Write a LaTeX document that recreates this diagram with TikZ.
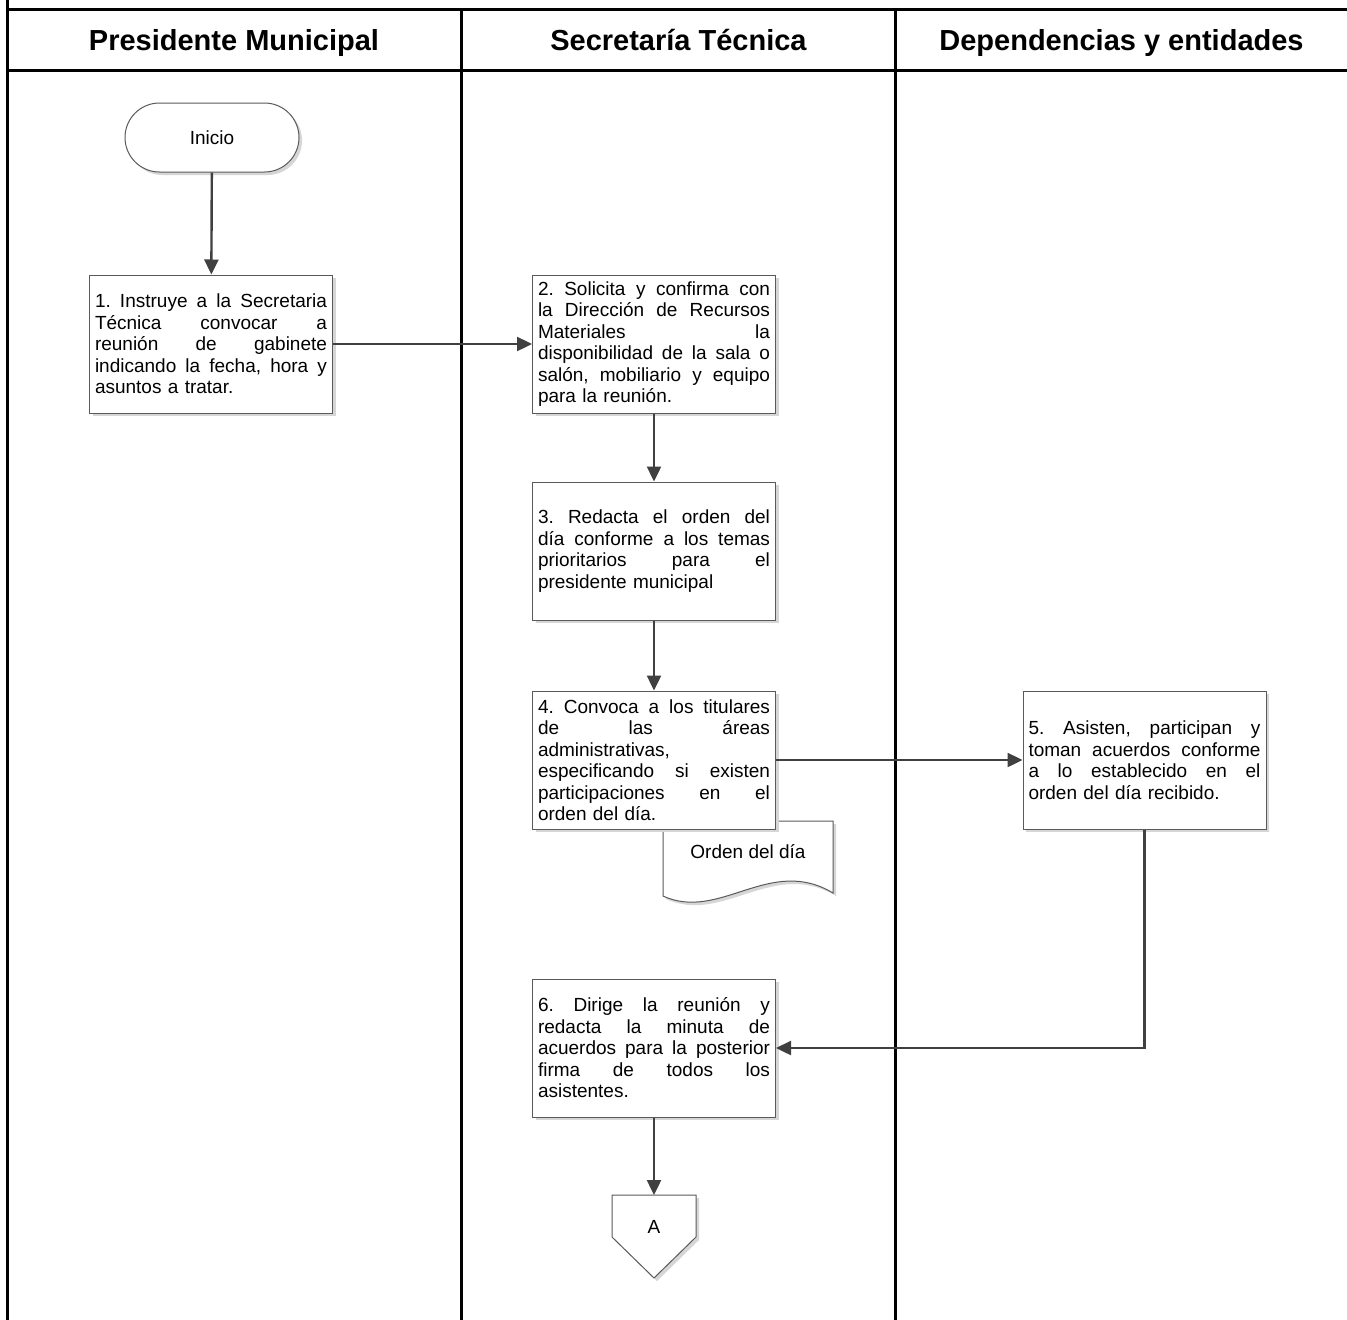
\documentclass[tikz,border=0pt]{standalone}
\usepackage{fontspec}
\setmainfont{Liberation Sans}
\usetikzlibrary{shapes.misc,shadows,arrows.meta,calc}
\definecolor{arrowc}{HTML}{404040}
\definecolor{boxc}{HTML}{5A5A5A}
\definecolor{shadowc}{HTML}{D6D6D6}
\newcommand{\jl}[1]{\leavevmode\hbox to 232pt{\spaceskip=0.278em plus 20em\relax #1}\\}
\tikzset{
  frame/.style={line width=3pt, draw=black},
  hdr/.style={font=\fontsize{29pt}{34pt}\selectfont\bfseries, anchor=base, inner sep=0pt},
  shadowed/.style={drop shadow={shadow xshift=3pt, shadow yshift=-3pt, fill=shadowc, opacity=1}},
  proc/.style={draw=boxc, line width=1pt, fill=white, shadowed, minimum width=243pt,
    minimum height=138pt, text width=232pt, inner sep=0pt, align=left,
    font=\fontsize{19pt}{21.5pt}\selectfont\frenchspacing},
  term/.style={rounded rectangle, draw=boxc, line width=1pt, fill=white, shadowed,
    minimum width=174pt, minimum height=69pt, inner sep=0pt,
    font=\fontsize{19pt}{22pt}\selectfont},
  plain/.style={inner sep=0pt, font=\fontsize{19pt}{22pt}\selectfont},
  docshape/.style={draw=boxc, line width=1pt, fill=white, shadowed},
  arr/.style={draw=arrowc, line width=2.4pt, -{Triangle[length=15pt,width=14pt]}}
}
\begin{document}
\begin{tikzpicture}[x=1pt,y=-1pt]
\fill[white] (0,0) rectangle (1347,1320);
\useasboundingbox (0,0) rectangle (1347,1320);
% frame
\draw[frame] (7,0) -- (7,1320);
\draw[frame] (5.5,9) -- (1347,9);
\draw[frame] (5.5,70) -- (1347,70);
\draw[frame] (461,9) -- (461,1320);
\draw[frame] (895.5,9) -- (895.5,1320);
% headers
\node[hdr] (h1) at (234,50) {Presidente Municipal};
\node[hdr] (h2) at (678.5,50) {Secretaría Técnica};
\node[hdr] (h3) at (1121.5,50) {Dependencias y entidades};
% start
\node[term] (inicio) at (212,137.5) {Inicio};
% boxes
\node[proc] (b1) at (211,344) {\jl{1. Instruye a la Secretaria}\jl{Técnica convocar a}\jl{reunión de gabinete}\jl{indicando la fecha, hora y}asuntos a tratar.};
\node[proc] (b2) at (654,344) {\jl{2. Solicita y confirma con}\jl{la Dirección de Recursos}\jl{Materiales la}\jl{disponibilidad de la sala o}\jl{salón, mobiliario y equipo}para la reunión.};
\node[proc] (b3) at (654,551) {\jl{3. Redacta el orden del}\jl{día conforme a los temas}\jl{prioritarios para el}presidente municipal};
% document
\draw[docshape] (663,821) -- (833,821) -- (833,893)
  .. controls (770,855) and (720,922) .. (663,896) -- cycle;
\node[plain] (doc) at (748,852) {Orden del día};
\node[proc] (b4) at (654,760) {\jl{4. Convoca a los titulares}\jl{de las áreas}administrativas,\\\jl{especificando si existen}\jl{participaciones en el}orden del día.};
\node[proc] (b5) at (1144.5,760) {\jl{5. Asisten, participan y}\jl{toman acuerdos conforme}\jl{a lo establecido en el}orden del día recibido.};
\node[proc] (b6) at (654,1048) {\jl{6. Dirige la reunión y}\jl{redacta la minuta de}\jl{acuerdos para la posterior}\jl{firma de todos los}asistentes.};
% off-page connector
\draw[docshape] (612,1195) -- (696,1195) -- (696,1237) -- (654,1278) -- (612,1237) -- cycle;
\coordinate (ctop) at (654,1195);
\node[plain] (A) at (654,1227) {A};
% arrows
\draw[arr] (inicio) -- (b1);
\draw[arr] (b1) -- (b2);
\draw[arr] (b2) -- (b3);
\draw[arr] (b3) -- (b4);
\draw[arr] (b4) -- (b5);
\draw[arr] (b5.south) |- (b6.east);
\draw[arr] (b6.south) -- (ctop);
\end{tikzpicture}
\end{document}
